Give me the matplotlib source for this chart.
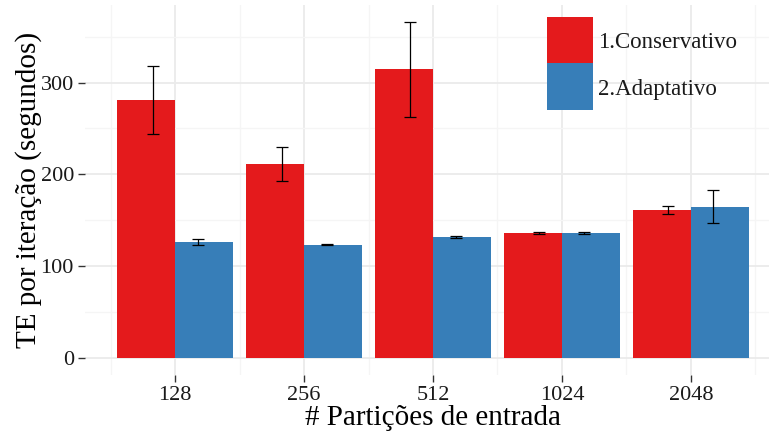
import numpy as np
import matplotlib
matplotlib.use("Agg")
import matplotlib.pyplot as plt
from matplotlib.patches import Rectangle

plt.rcParams['font.family'] = ['Liberation Serif', 'DejaVu Serif']

# tempos medios por iteracao e desvios
particoes = ['128', '256', '512', '1024', '2048']
conservativo = [281, 211, 314.5, 136, 161]
conservativo_lo = [244, 193, 262.5, 134.6, 157]
conservativo_hi = [318.5, 230, 366, 137.4, 165.8]
adaptativo = [125.8, 123, 131.3, 136, 164.3]
adaptativo_lo = [122.6, 122.4, 130, 134.6, 147]
adaptativo_hi = [129, 123.6, 132.5, 137.4, 182.7]

vermelho = '#E41A1C'
azul = '#377EB8'

fig = plt.figure(figsize=(7.69, 4.32), dpi=100)
W, H = 769.0, 432.0
left, right, top, bottom = 85, 781, 4.7, 374.5
ax = fig.add_axes([left / W, 1 - bottom / H, (right - left) / W, (bottom - top) / H])

x = np.arange(1, len(particoes) + 1)
ax.bar(x - 0.225, conservativo, width=0.45, color=vermelho, zorder=2)
ax.bar(x + 0.225, adaptativo, width=0.45, color=azul, zorder=2)

def barras_erro(xs, lo, hi):
    lo = np.array(lo)
    hi = np.array(hi)
    mid = (lo + hi) / 2
    ax.errorbar(xs, mid, yerr=[mid - lo, hi - mid], fmt='none', ecolor='black',
                elinewidth=0.9, capsize=4.6, capthick=0.9, zorder=3)

barras_erro(x - 0.175, conservativo_lo, conservativo_hi)
barras_erro(x + 0.175, adaptativo_lo, adaptativo_hi)

ax.set_xlim(0.3, 5.7)
ax.set_ylim(-18.35, 385)
ax.set_xticks(x)
ax.set_xticklabels(particoes)
ax.set_xticks(np.arange(0.5, 6, 1.0), minor=True)
ax.set_yticks([0, 100, 200, 300])
ax.set_yticks([50, 150, 250, 350], minor=True)

ax.grid(True, which='major', color='#EBEBEB', linewidth=1.3, zorder=0)
ax.grid(True, which='minor', color='#F5F5F5', linewidth=1.0, zorder=0)
ax.set_axisbelow(True)
for s in ax.spines.values():
    s.set_visible(False)

ax.tick_params(which='major', length=5, width=1.0, color='#333333',
               labelsize=16, pad=3, labelcolor='#1A1A1A')
ax.tick_params(which='minor', length=0)

ax.set_xlabel('# Partições de entrada', fontsize=21, labelpad=0)
ax.set_ylabel('TE por iteração (segundos)', fontsize=21, labelpad=-1)

# legenda desenhada manualmente no canto superior direito
legenda = [('1.Conservativo', vermelho), ('2.Adaptativo', azul)]
for i, (rotulo, cor) in enumerate(legenda):
    y0 = 17 + i * 46.5
    fig.add_artist(Rectangle((547 / W, 1 - (y0 + 46.5) / H), 46 / W, 46.5 / H,
                             facecolor=cor, edgecolor='none', transform=fig.transFigure))
    fig.text(598 / W, 1 - (y0 + 26) / H, rotulo, fontsize=16.5, va='center',
             ha='left', color='#1A1A1A')

fig.savefig('out.png', dpi=100)
